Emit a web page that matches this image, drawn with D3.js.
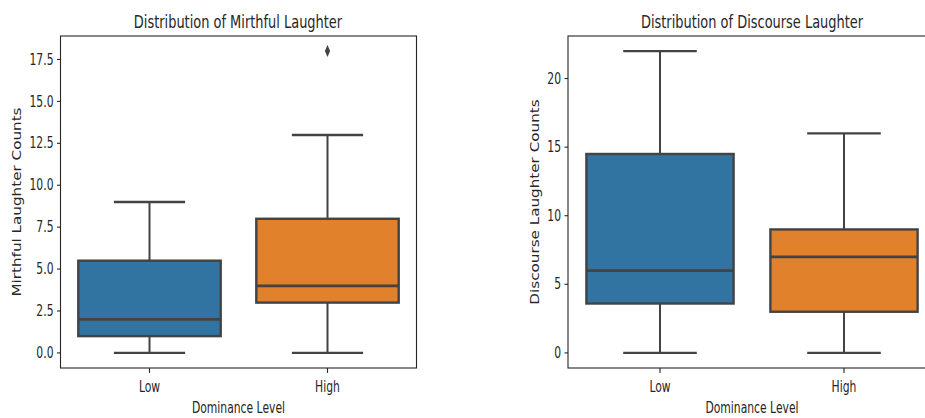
<!DOCTYPE html>
<html>
<head>
<meta charset="utf-8">
<script src="https://cdn.jsdelivr.net/npm/d3@7"></script>
<style>
  html, body { margin: 0; padding: 0; background: #fff; }
  svg { display: block; }
  text { font-family: "DejaVu Sans", sans-serif; fill: #262626; }
</style>
</head>
<body>
<svg id="chart" width="925" height="418"></svg>
<script>
// Dominance levels on the x axis
const categories = ["Low", "High"];

// Mirthful laughter: box statistics per dominance level
const mirthMin    = [0, 0];
const mirthQ1     = [1, 3];
const mirthMedian = [2, 4];
const mirthQ3     = [5.5, 8];
const mirthMax    = [9, 13];
const mirthOutliers = [[], [18]];
const mirthTicks  = [0, 2.5, 5, 7.5, 10, 12.5, 15, 17.5];

// Discourse laughter: box statistics per dominance level
const discMin    = [0, 0];
const discQ1     = [3.6, 3];
const discMedian = [6, 7];
const discQ3     = [14.5, 9];
const discMax    = [22, 16];
const discOutliers = [[], []];
const discTicks  = [0, 5, 10, 15, 20];

const boxColors = ["#3274a1", "#e1812c"];
const lineColor = "#434343";
const SQ = 0.72; // horizontal text compression

const svg = d3.select("#chart");

function squishedText(g, x, y, str, opts) {
  const rot = opts.rotate ? ` rotate(${opts.rotate})` : "";
  const sx = opts.sx || SQ;
  return g.append("text")
    .attr("transform", `translate(${x},${y}) scale(${sx},1)${rot}`)
    .attr("text-anchor", opts.anchor || "middle")
    .attr("dominant-baseline", opts.baseline || "auto")
    .attr("font-size", opts.size)
    .text(str);
}

function drawPanel(cfg) {
  const g = svg.append("g");
  const x = d3.scaleBand().domain(categories).range([cfg.x0, cfg.x1]).paddingInner(0).paddingOuter(0);
  const lo = d3.min(cfg.min), hi = d3.max([...cfg.max, ...cfg.outliers.flat()]);
  const pad = (hi - lo) * 0.05;
  const y = d3.scaleLinear().domain([lo - pad, hi + pad]).range([cfg.y1, cfg.y0]);

  const bw = x.bandwidth() * 0.8;
  const cw = bw * 0.5;

  categories.forEach((c, i) => {
    const cx = x(c) + x.bandwidth() / 2;
    // whiskers
    g.append("line").attr("x1", cx).attr("x2", cx)
      .attr("y1", y(cfg.q3[i])).attr("y2", y(cfg.max[i]))
      .attr("stroke", lineColor).attr("stroke-width", 2);
    g.append("line").attr("x1", cx).attr("x2", cx)
      .attr("y1", y(cfg.q1[i])).attr("y2", y(cfg.min[i]))
      .attr("stroke", lineColor).attr("stroke-width", 2);
    // caps
    [cfg.max[i], cfg.min[i]].forEach(v => {
      g.append("line").attr("x1", cx - cw / 2).attr("x2", cx + cw / 2)
        .attr("y1", y(v)).attr("y2", y(v))
        .attr("stroke", lineColor).attr("stroke-width", 2.4);
    });
    // box
    g.append("rect")
      .attr("x", cx - bw / 2).attr("width", bw)
      .attr("y", y(cfg.q3[i])).attr("height", y(cfg.q1[i]) - y(cfg.q3[i]))
      .attr("fill", boxColors[i]).attr("stroke", lineColor).attr("stroke-width", 2.4);
    // median
    g.append("line").attr("x1", cx - bw / 2).attr("x2", cx + bw / 2)
      .attr("y1", y(cfg.median[i])).attr("y2", y(cfg.median[i]))
      .attr("stroke", lineColor).attr("stroke-width", 2.8);
    // outliers (diamond markers)
    cfg.outliers[i].forEach(v => {
      g.append("path")
        .attr("d", `M0,-6L2.6,0L0,6L-2.6,0Z`)
        .attr("transform", `translate(${cx},${y(v)})`)
        .attr("fill", lineColor);
    });
  });

  // frame
  g.append("rect").attr("x", cfg.x0).attr("y", cfg.y0)
    .attr("width", cfg.x1 - cfg.x0).attr("height", cfg.y1 - cfg.y0)
    .attr("fill", "none").attr("stroke", "#262626").attr("stroke-width", 1.1);

  // y ticks
  cfg.ticks.forEach(t => {
    const ty = y(t);
    g.append("line").attr("x1", cfg.x0 - 3.5).attr("x2", cfg.x0)
      .attr("y1", ty).attr("y2", ty).attr("stroke", "#262626").attr("stroke-width", 1.1);
    squishedText(g, cfg.x0 - 7, ty, cfg.tickFormat(t), { anchor: "end", baseline: "central", size: 15 });
  });

  // x ticks
  categories.forEach(c => {
    const cx = x(c) + x.bandwidth() / 2;
    g.append("line").attr("x1", cx).attr("x2", cx)
      .attr("y1", cfg.y1).attr("y2", cfg.y1 + 4.9).attr("stroke", "#262626").attr("stroke-width", 1.1);
    squishedText(g, cx, cfg.y1 + 24, c, { size: 15 });
  });

  // labels and title
  squishedText(g, (cfg.x0 + cfg.x1) / 2, 413, "Dominance Level", { size: 15 });
  squishedText(g, cfg.yLabelX, (cfg.y0 + cfg.y1) / 2, cfg.yLabel, { size: 15.2, rotate: -90, sx: 0.82 });
  squishedText(g, cfg.titleX, 27.5, cfg.title, { size: 18 });
}

drawPanel({
  x0: 60.5, x1: 416.5, y0: 36, y1: 368,
  min: mirthMin, q1: mirthQ1, median: mirthMedian, q3: mirthQ3, max: mirthMax,
  outliers: mirthOutliers, ticks: mirthTicks,
  tickFormat: d3.format(".1f"),
  yLabel: "Mirthful Laughter Counts", yLabelX: 21,
  title: "Distribution of Mirthful Laughter", titleX: 238
});

drawPanel({
  x0: 568, x1: 936, y0: 36, y1: 368,
  min: discMin, q1: discQ1, median: discMedian, q3: discQ3, max: discMax,
  outliers: discOutliers, ticks: discTicks,
  tickFormat: d3.format("d"),
  yLabel: "Discourse Laughter Counts", yLabelX: 539,
  title: "Distribution of Discourse Laughter", titleX: 752
});
</script>
</body>
</html>
